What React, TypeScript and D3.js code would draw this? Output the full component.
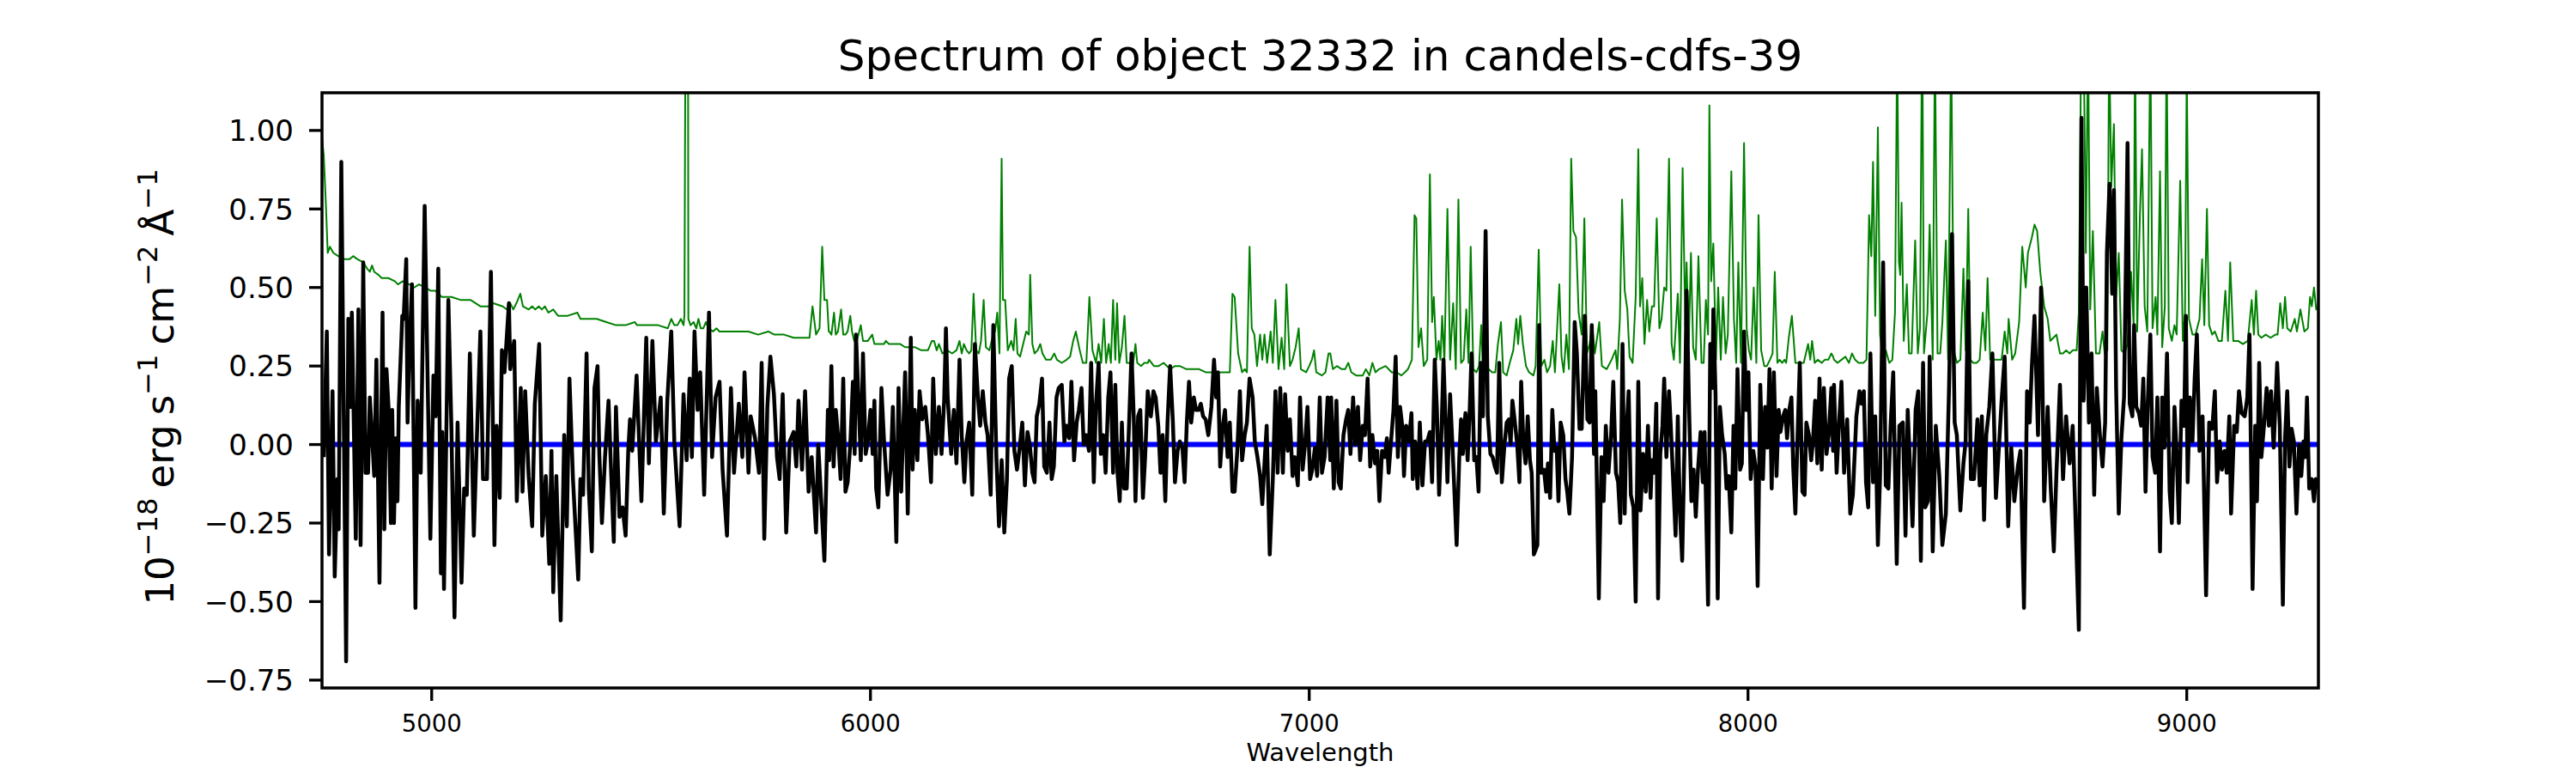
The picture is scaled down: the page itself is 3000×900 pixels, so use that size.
import React from 'react'
import * as d3 from 'd3'

type Pt = [number, number]

// wavelength (Angstrom), flux (1e-18 erg/s/cm2/A)
const fluxBlue: Pt[] = [
  [4754,-0.04],[4761,0.36],[4766,-0.35],[4774,0.17],[4779,-0.42],[4785,-0.11],[4788,-0.27],[4794,0.90],[4805,-0.69],[4810,0.40],
  [4815,0.12],[4818,0.42],[4827,-0.30],[4833,0.43],[4838,-0.32],[4844,0.58],[4849,-0.09],[4855,-0.09],[4859,0.15],[4864,0.03],
  [4869,-0.10],[4874,0.27],[4881,-0.44],[4888,0.42],[4892,-0.27],[4897,0.24],[4902,0.11],[4907,-0.25],[4910,0.11],[4914,-0.25],
  [4918,0.02],[4922,-0.18],[4925,0.12],[4933,0.41],[4936,0.40],[4942,0.59],[4945,0.07],[4949,0.29],[4955,0.51],[4963,-0.52],
  [4968,0.14],[4975,-0.09],[4984,0.76],[4997,-0.30],[5004,0.22],[5009,0.09],[5015,0.56],[5021,-0.41],[5024,0.04],[5028,-0.46],
  [5038,0.46],[5045,0.05],[5052,-0.55],[5059,0.07],[5068,-0.44],[5074,-0.14],[5080,-0.16],[5087,0.29],[5096,-0.29],[5102,-0.02],
  [5111,0.36],[5117,-0.11],[5126,-0.11],[5135,0.55],[5143,-0.32],[5148,0.06],[5155,-0.17],[5160,0.30],[5166,0.23],[5176,0.45],
  [5179,0.24],[5188,0.33],[5194,-0.18],[5203,0.18],[5207,-0.15],[5213,0.17],[5221,-0.10],[5229,-0.26],[5235,0.13],[5245,0.32],
  [5252,-0.29],[5260,-0.10],[5268,-0.38],[5273,-0.02],[5277,-0.47],[5284,-0.10],[5294,-0.56],[5302,0.03],[5308,-0.26],[5314,0.21],
  [5322,-0.11],[5334,-0.43],[5339,-0.11],[5345,-0.16],[5353,0.29],[5358,-0.14],[5365,-0.34],[5371,0.18],[5378,0.25],[5382,-0.03],
  [5388,-0.25],[5395,-0.04],[5403,0.14],[5409,-0.09],[5415,-0.31],[5420,0.12],[5428,-0.23],[5435,-0.20],[5442,-0.29],[5448,-0.02],
  [5452,0.08],[5457,-0.02],[5467,0.22],[5478,-0.18],[5489,0.34],[5495,-0.06],[5503,0.33],[5511,0.01],[5522,0.15],[5529,-0.22],
  [5537,0.14],[5546,0.36],[5553,0.01],[5565,-0.26],[5574,0.16],[5581,-0.05],[5588,0.21],[5593,-0.04],[5599,0.36],[5606,0.11],
  [5612,0.23],[5621,-0.16],[5632,0.42],[5639,-0.04],[5647,0.15],[5656,0.20],[5663,-0.08],[5673,-0.29],[5682,0.18],[5689,-0.09],
  [5700,0.13],[5708,-0.04],[5713,0.23],[5722,-0.09],[5727,0.09],[5737,0.02],[5746,-0.09],[5752,0.26],[5758,-0.30],[5765,0.12],
  [5772,0.28],[5780,0.16],[5787,-0.04],[5793,-0.11],[5800,0.16],[5808,-0.28],[5816,0.01],[5825,0.04],[5831,-0.07],[5836,0.14],
  [5844,-0.08],[5851,0.17],[5859,-0.15],[5866,-0.04],[5876,-0.28],[5881,0.00],[5895,-0.37],[5903,0.11],
]

const fluxGreen: Pt[] = [
  [5906,-0.05],[5911,0.25],[5916,-0.07],[5921,0.11],[5926,0.03],[5932,-0.11],[5938,0.21],[5943,-0.15],[5948,-0.12],[5954,0.00],
  [5960,0.20],[5964,-0.03],[5967,0.35],[5972,0.17],[5978,-0.05],[5983,0.29],[5989,-0.03],[5994,0.01],[6000,0.11],[6005,-0.03],
  [6009,0.14],[6013,-0.14],[6018,-0.20],[6025,0.18],[6031,0.01],[6039,-0.16],[6046,-0.08],[6051,0.12],[6059,-0.31],[6064,0.18],
  [6070,-0.15],[6079,0.23],[6085,-0.22],[6092,0.34],[6096,-0.08],[6101,0.11],[6107,-0.05],[6112,0.17],[6118,0.08],[6125,0.12],
  [6131,0.03],[6138,-0.12],[6143,0.21],[6149,-0.03],[6156,0.12],[6162,-0.03],[6168,0.14],[6172,0.37],[6176,0.15],[6184,-0.03],
  [6190,0.11],[6196,-0.06],[6203,0.27],[6208,0.03],[6214,-0.12],[6219,0.01],[6225,0.07],[6232,-0.16],[6238,0.32],[6245,0.15],
  [6250,0.06],[6256,0.17],[6262,0.07],[6267,0.03],[6274,-0.16],[6280,0.38],[6287,-0.04],[6293,-0.26],[6299,-0.05],[6305,-0.28],
  [6311,-0.11],[6316,0.21],[6322,0.25],[6328,-0.02],[6334,-0.08],[6340,-0.01],[6346,0.07],[6352,-0.13],[6358,0.04],[6363,0.00],
  [6369,-0.09],[6374,-0.12],[6379,0.09],[6385,0.13],[6391,0.21],[6396,-0.07],[6402,-0.09],[6408,0.07],[6413,-0.11],[6418,-0.07],
  [6424,0.15],[6429,0.18],[6436,0.19],[6442,0.01],[6447,0.06],[6453,0.02],[6458,0.20],[6464,-0.05],[6470,0.07],[6475,0.11],
  [6481,0.18],[6486,0.00],[6492,0.03],[6498,-0.02],[6503,0.26],[6509,-0.12],[6514,0.13],[6520,0.26],[6525,-0.03],[6531,0.03],
  [6536,-0.09],[6542,0.15],[6547,0.23],[6553,-0.09],[6558,0.19],[6563,-0.09],[6568,-0.18],[6573,0.07],[6578,-0.14],[6584,-0.14],
  [6590,0.09],[6595,0.29],[6600,0.09],[6604,-0.18],[6610,0.09],[6615,0.11],[6621,-0.17],[6626,-0.04],[6632,0.17],[6639,0.09],
  [6645,0.17],[6650,0.15],[6656,0.06],[6661,-0.09],[6666,0.03],[6672,-0.18],[6677,0.07],[6683,0.25],[6689,0.08],[6694,-0.12],
  [6700,-0.02],[6705,0.01],[6711,-0.01],[6716,-0.12],[6721,0.07],[6726,0.20],[6731,0.07],[6737,0.15],[6742,0.11],[6748,0.11],
  [6753,0.13],[6758,0.09],[6764,0.08],[6770,0.03],[6777,0.12],[6783,0.27],[6788,0.15],[6792,0.23],[6797,-0.07],[6803,0.06],
  [6808,0.11],[6814,-0.04],[6819,0.07],[6825,-0.15],[6830,-0.15],[6836,-0.02],[6842,0.17],[6847,-0.05],[6853,0.03],[6858,0.07],
  [6864,0.21],[6871,0.15],[6876,0.01],[6882,-0.04],[6888,-0.10],[6893,-0.19],[6898,-0.06],[6903,0.06],[6910,-0.35],[6917,-0.11],
  [6923,0.17],[6928,-0.09],[6934,0.18],[6940,-0.09],[6945,0.16],[6951,-0.02],[6956,0.08],[6962,-0.10],[6967,-0.04],[6974,-0.13],
  [6979,0.15],[6985,-0.08],[6991,0.01],[6996,0.12],[7002,-0.11],[7007,-0.08],[7013,-0.01],[7018,-0.10],[7024,0.15],[7029,-0.09],
  [7035,-0.04],[7042,0.15],[7048,-0.05],
]

const fluxRed: Pt[] = [
  [7050,0.15],[7056,-0.14],[7062,0.14],[7067,-0.12],[7072,-0.14],[7078,0.03],[7084,0.08],[7089,0.11],[7094,-0.03],[7100,0.15],
  [7105,0.00],[7111,0.12],[7116,-0.05],[7122,0.06],[7127,0.03],[7133,0.21],[7139,-0.07],[7144,0.03],[7150,-0.06],[7155,-0.02],
  [7160,-0.18],[7166,-0.02],[7172,-0.04],[7177,0.02],[7181,-0.09],[7187,0.02],[7192,0.11],[7197,0.28],[7202,-0.04],[7207,0.12],
  [7212,0.06],[7216,-0.10],[7221,0.06],[7227,0.01],[7233,0.10],[7236,-0.11],[7241,0.01],[7247,-0.14],[7252,0.07],[7258,-0.13],
  [7264,0.01],[7269,0.01],[7275,0.04],[7280,-0.12],[7286,0.27],[7291,0.11],[7296,-0.16],[7301,0.02],[7306,0.27],[7311,0.06],
  [7315,-0.12],[7321,0.16],[7326,0.01],[7330,-0.12],[7336,-0.32],[7342,-0.04],[7346,0.08],[7350,-0.03],[7356,0.10],[7361,-0.05],
  [7366,0.12],[7370,0.29],[7376,-0.05],[7381,-0.04],[7386,-0.15],[7391,0.26],[7396,0.09],[7402,0.68],[7407,0.09],[7413,-0.03],
  [7418,-0.04],[7423,-0.07],[7428,-0.09],[7433,0.26],[7439,-0.12],[7445,0.00],[7450,0.07],[7455,0.08],[7459,0.00],[7463,0.14],
  [7468,0.08],[7474,0.00],[7479,-0.12],[7483,0.20],[7488,0.01],[7493,-0.06],[7498,0.09],[7503,-0.05],[7507,-0.09],[7512,-0.35],
  [7520,-0.32],[7524,0.38],[7529,-0.09],[7535,-0.08],[7540,-0.15],[7544,-0.06],[7549,-0.17],[7554,0.11],[7559,-0.02],[7564,-0.01],
  [7568,-0.18],[7573,0.07],[7579,0.03],[7584,-0.11],[7588,-0.15],[7593,-0.22],[7599,-0.04],[7605,0.39],[7610,0.29],[7616,0.05],
  [7621,0.05],[7628,0.41],[7634,0.08],[7639,0.07],[7644,0.38],[7649,-0.03],[7652,0.17],[7660,-0.49],[7666,-0.04],[7671,-0.18],
  [7676,0.06],[7682,-0.09],[7688,0.03],[7693,0.20],[7699,-0.09],[7704,-0.12],[7709,-0.25],[7714,0.32],[7719,-0.22],[7722,0.01],
  [7728,0.17],[7733,-0.16],[7739,-0.20],[7744,-0.50],[7750,0.20],[7755,-0.21],[7761,-0.03],[7767,-0.15],[7772,0.06],[7778,-0.17],
  [7781,-0.05],[7786,-0.09],[7791,0.13],[7795,-0.49],[7800,-0.03],[7805,0.06],[7809,0.21],[7814,-0.04],[7820,0.17],[7824,0.06],
  [7829,-0.10],[7835,-0.29],[7840,0.09],[7845,-0.22],[7850,-0.37],[7855,-0.02],[7860,0.49],[7866,0.10],[7871,-0.18],[7876,-0.08],
  [7881,-0.23],[7886,-0.08],[7892,0.04],[7897,-0.12],[7901,0.04],[7909,-0.51],[7914,0.32],[7919,0.18],[7921,0.43],[7926,0.16],
  [7931,-0.49],[7936,0.12],[7941,0.03],[7947,-0.03],[7951,-0.14],[7956,-0.10],[7962,-0.28],[7967,0.06],[7971,-0.14],[7976,0.24],
  [7982,-0.08],[7986,-0.06],[7991,0.36],[7996,0.11],[8001,0.23],[8006,-0.11],[8012,-0.02],[8017,-0.07],[8022,-0.45],[8028,0.19],
  [8034,-0.11],[8039,0.12],[8044,-0.01],[8049,0.24],[8054,-0.14],[8059,0.23],[8065,-0.10],[8070,0.11],[8074,0.04],[8080,0.09],
  [8085,0.11],[8089,0.02],[8094,0.11],[8099,0.15],[8103,-0.07],[8108,-0.22],[8113,0.03],[8118,0.26],[8124,-0.15],[8129,-0.16],
  [8133,0.07],[8139,0.03],[8144,-0.05],[8148,0.01],[8153,0.14],[8158,-0.06],[8163,0.21],[8168,-0.08],[8173,0.18],[8179,-0.03],
  [8184,0.03],[8190,0.18],[8194,-0.02],
]

const fluxIR: Pt[] = [
  [8196,0.19],[8202,-0.09],[8208,0.08],[8213,0.20],[8219,-0.09],[8226,0.08],[8233,-0.22],[8239,-0.16],[8247,0.09],[8254,0.17],
  [8259,0.13],[8264,0.17],[8269,-0.12],[8274,-0.20],[8279,0.29],[8285,-0.12],[8290,0.09],[8296,-0.32],[8301,-0.10],[8308,0.58],
  [8314,-0.13],[8320,-0.14],[8325,0.06],[8331,0.23],[8339,-0.38],[8345,0.06],[8353,0.07],[8359,-0.29],[8364,0.11],[8370,-0.09],
  [8375,-0.26],[8382,0.11],[8388,0.17],[8394,-0.37],[8399,0.26],[8404,-0.20],[8410,-0.18],[8414,0.28],[8421,-0.34],[8428,0.06],
  [8436,-0.10],[8443,-0.32],[8451,-0.22],[8458,0.17],[8465,0.67],[8471,0.07],[8476,0.03],[8484,-0.21],[8491,-0.06],[8496,0.01],
  [8502,0.52],[8508,-0.11],[8515,-0.11],[8523,0.08],[8528,-0.13],[8533,0.09],[8538,-0.24],[8543,0.03],[8550,0.12],[8557,0.29],
  [8565,-0.17],[8571,-0.03],[8578,0.14],[8585,0.28],[8593,-0.26],[8600,-0.01],[8607,-0.18],[8615,-0.07],[8621,-0.02],[8629,-0.52],
  [8636,0.17],[8642,0.07],[8647,0.25],[8653,0.41],[8661,0.03],[8668,0.50],[8675,-0.18],[8683,0.12],[8690,-0.14],[8697,-0.34],
  [8703,-0.09],[8711,0.19],[8718,-0.11],[8725,0.09],[8733,-0.06],[8740,0.06],[8745,-0.17],[8754,-0.59],[8760,1.04],[8765,0.14],
  [8771,0.50],[8777,0.07],[8783,0.29],[8789,-0.16],[8795,0.18],[8802,0.03],[8808,-0.07],[8814,0.07],[8818,0.61],[8824,0.83],
  [8830,0.48],[8834,0.81],[8839,0.18],[8845,-0.22],[8851,0.02],[8857,0.15],[8865,0.96],[8870,0.13],[8876,0.09],[8880,0.38],
  [8885,0.12],[8891,0.10],[8896,0.06],[8901,0.21],[8906,-0.15],[8911,0.13],[8917,0.35],[8922,-0.04],[8928,-0.09],[8933,0.15],
  [8939,-0.34],[8944,0.15],[8949,-0.01],[8955,0.29],[8961,-0.15],[8966,-0.25],[8972,0.12],[8977,-0.03],[8982,-0.25],[8988,0.14],
  [8994,0.06],[8998,0.41],[9002,-0.12],[9007,0.15],[9013,0.01],[9018,0.21],[9023,0.35],[9029,-0.02],[9036,0.09],[9044,-0.48],
  [9051,0.07],[9058,0.05],[9064,0.17],[9069,-0.12],[9075,0.01],[9080,-0.08],[9086,-0.02],[9091,-0.09],[9097,0.09],[9101,-0.22],
  [9108,0.06],[9114,0.04],[9119,0.17],[9125,0.10],[9132,0.09],[9138,0.15],[9143,0.35],[9150,-0.46],[9156,0.06],[9160,-0.18],
  [9165,0.26],[9170,-0.04],[9176,0.06],[9182,0.18],[9187,0.06],[9192,0.17],[9198,-0.01],[9206,0.26],[9212,0.06],[9219,-0.51],
  [9224,0.02],[9229,0.17],[9234,-0.07],[9239,0.05],[9244,0.01],[9250,-0.22],[9256,0.00],[9261,-0.10],[9266,0.01],[9270,-0.04],
  [9274,0.15],[9279,-0.14],[9285,-0.11],[9290,-0.18],[9294,-0.11],[9300,-0.14],
]

// noise / sky spectrum (green)
const skyBlue: Pt[] = [
  [4750,0.98],[4754,0.92],[4759,0.76],[4763,0.61],[4768,0.63],[4776,0.61],[4787,0.60],[4802,0.59],[4813,0.59],[4821,0.60],
  [4831,0.59],[4844,0.58],[4853,0.56],[4859,0.55],[4864,0.57],[4869,0.55],[4879,0.54],[4886,0.53],[4901,0.53],[4916,0.52],
  [4923,0.51],[4934,0.52],[4949,0.51],[4960,0.50],[4971,0.51],[4986,0.50],[4997,0.49],[5008,0.49],[5023,0.47],[5045,0.47],
  [5067,0.46],[5089,0.46],[5111,0.44],[5129,0.44],[5140,0.45],[5162,0.44],[5171,0.43],[5179,0.45],[5186,0.43],[5193,0.45],
  [5202,0.48],[5208,0.44],[5221,0.43],[5229,0.44],[5236,0.43],[5244,0.44],[5251,0.43],[5258,0.44],[5266,0.42],[5277,0.43],
  [5288,0.41],[5310,0.41],[5332,0.42],[5339,0.40],[5361,0.40],[5376,0.40],[5398,0.39],[5420,0.38],[5442,0.38],[5463,0.39],
  [5468,0.38],[5487,0.38],[5516,0.38],[5538,0.37],[5546,0.40],[5553,0.38],[5560,0.38],[5568,0.40],[5574,0.38],[5576,0.41],
  [5579,1.6],[5584,1.6],[5585,0.40],[5590,0.38],[5597,0.39],[5603,0.37],[5608,0.40],[5613,0.37],[5619,0.37],[5625,0.39],
  [5630,0.37],[5641,0.36],[5649,0.37],[5656,0.36],[5671,0.36],[5693,0.36],[5708,0.36],[5722,0.36],[5744,0.35],[5767,0.36],
  [5781,0.35],[5803,0.35],[5825,0.34],[5848,0.34],[5861,0.34],[5868,0.44],[5876,0.35],[5884,0.37],[5890,0.63],[5895,0.46],
  [5901,0.46],[5905,0.36],
]

const skyGreen: Pt[] = [
  [5906,0.36],[5911,0.35],[5917,0.42],[5921,0.35],[5926,0.36],[5933,0.43],[5938,0.35],[5943,0.35],[5948,0.36],[5954,0.41],
  [5958,0.36],[5963,0.33],[5969,0.33],[5978,0.38],[5983,0.33],[5994,0.33],[6004,0.35],[6009,0.32],[6020,0.32],[6031,0.32],
  [6035,0.33],[6042,0.32],[6061,0.32],[6068,0.32],[6079,0.31],[6101,0.31],[6116,0.30],[6131,0.30],[6140,0.33],[6145,0.33],
  [6151,0.30],[6156,0.32],[6164,0.29],[6175,0.30],[6186,0.29],[6196,0.30],[6203,0.33],[6208,0.29],[6213,0.32],[6219,0.30],
  [6225,0.29],[6230,0.30],[6235,0.48],[6241,0.30],[6247,0.29],[6252,0.33],[6258,0.46],[6263,0.31],[6271,0.30],[6278,0.34],
  [6284,0.36],[6289,0.42],[6294,0.29],[6299,0.91],[6302,0.46],[6307,0.46],[6313,0.30],[6321,0.33],[6326,0.30],[6331,0.40],
  [6335,0.29],[6341,0.28],[6348,0.32],[6355,0.36],[6361,0.35],[6364,0.54],[6369,0.32],[6374,0.29],[6381,0.30],[6387,0.32],
  [6392,0.29],[6400,0.27],[6411,0.27],[6419,0.29],[6425,0.27],[6436,0.26],[6447,0.27],[6455,0.28],[6462,0.33],[6468,0.36],
  [6477,0.30],[6484,0.26],[6492,0.26],[6499,0.47],[6506,0.30],[6514,0.26],[6520,0.32],[6526,0.26],[6532,0.40],[6537,0.26],
  [6543,0.32],[6548,0.26],[6553,0.46],[6558,0.27],[6562,0.45],[6567,0.26],[6573,0.31],[6579,0.41],[6584,0.26],[6589,0.26],
  [6598,0.25],[6604,0.32],[6608,0.26],[6617,0.25],[6624,0.26],[6632,0.26],[6635,0.27],[6646,0.25],[6657,0.25],[6668,0.26],
  [6683,0.24],[6694,0.25],[6705,0.25],[6720,0.24],[6735,0.24],[6749,0.24],[6764,0.23],[6779,0.23],[6797,0.23],[6819,0.23],
  [6825,0.48],[6830,0.47],[6838,0.29],[6847,0.23],[6853,0.24],[6858,0.23],[6864,0.63],[6869,0.37],[6875,0.35],[6881,0.25],
  [6888,0.35],[6893,0.27],[6898,0.35],[6904,0.26],[6912,0.36],[6917,0.26],[6923,0.46],[6930,0.24],[6937,0.34],[6943,0.24],
  [6948,0.51],[6956,0.25],[6962,0.27],[6969,0.31],[6976,0.37],[6981,0.24],[6993,0.23],[7000,0.25],[7006,0.27],[7011,0.30],
  [7016,0.23],[7029,0.22],[7037,0.23],[7044,0.29],
]

const skyRed: Pt[] = [
  [7048,0.29],[7054,0.24],[7063,0.25],[7074,0.24],[7082,0.24],[7089,0.26],[7096,0.23],[7107,0.22],[7122,0.22],[7129,0.24],
  [7137,0.22],[7144,0.26],[7151,0.23],[7159,0.24],[7174,0.25],[7188,0.23],[7199,0.23],[7210,0.22],[7218,0.23],[7225,0.24],
  [7234,0.27],[7240,0.73],[7244,0.72],[7249,0.31],[7255,0.37],[7261,0.25],[7269,0.27],[7275,0.86],[7280,0.39],[7284,0.47],
  [7290,0.27],[7295,0.33],[7299,0.27],[7303,0.41],[7308,0.26],[7315,0.75],[7321,0.27],[7328,0.45],[7334,0.24],[7340,0.78],
  [7346,0.26],[7352,0.27],[7358,0.43],[7363,0.26],[7368,0.63],[7374,0.24],[7381,0.23],[7387,0.25],[7392,0.38],[7396,0.24],
  [7403,0.23],[7409,0.24],[7417,0.23],[7424,0.23],[7430,0.32],[7437,0.39],[7442,0.23],[7450,0.22],[7457,0.26],[7465,0.30],
  [7472,0.40],[7476,0.32],[7481,0.41],[7487,0.32],[7494,0.25],[7501,0.23],[7511,0.22],[7516,0.25],[7523,0.62],[7529,0.25],
  [7536,0.27],[7542,0.23],[7549,0.25],[7555,0.33],[7560,0.23],[7570,0.51],[7575,0.28],[7580,0.23],[7586,0.35],[7592,0.24],
  [7597,0.91],[7602,0.68],[7608,0.66],[7614,0.42],[7621,0.35],[7627,0.72],[7633,0.29],[7639,0.32],[7645,0.38],[7651,0.29],
  [7656,0.34],[7661,0.39],[7667,0.25],[7678,0.24],[7689,0.27],[7698,0.30],[7702,0.24],[7708,0.40],[7713,0.78],[7719,0.49],
  [7725,0.43],[7730,0.28],[7737,0.26],[7744,0.47],[7750,0.94],[7754,0.44],[7759,0.53],[7764,0.32],[7770,0.46],[7775,0.36],
  [7781,0.44],[7786,0.44],[7792,0.72],[7798,0.37],[7803,0.40],[7809,0.50],[7814,0.49],[7820,0.91],[7826,0.32],[7831,0.27],
  [7840,0.48],[7845,0.26],[7851,0.88],[7857,0.38],[7860,0.58],[7865,0.32],[7870,0.61],[7875,0.31],[7881,0.27],[7887,0.60],
  [7894,0.26],[7899,0.26],[7904,0.46],[7909,0.35],[7912,1.08],[7916,0.52],[7921,0.64],[7927,0.27],[7932,0.50],[7938,0.27],
  [7943,0.47],[7949,0.29],[7954,0.35],[7962,0.87],[7968,0.40],[7973,0.26],[7978,0.58],[7984,0.26],[7991,0.96],[7997,0.37],
  [8002,0.30],[8007,0.27],[8013,0.50],[8019,0.26],[8024,0.73],[8030,0.30],[8037,0.25],[8043,0.25],[8050,0.27],[8056,0.29],
  [8061,0.55],[8067,0.26],[8072,0.27],[8078,0.26],[8083,0.27],[8087,0.26],[8093,0.34],[8100,0.41],[8108,0.26],[8113,0.26],
  [8120,0.26],[8127,0.26],[8137,0.32],[8142,0.27],[8146,0.33],[8152,0.26],[8159,0.27],[8168,0.26],[8175,0.27],[8183,0.27],
  [8190,0.29],[8194,0.28],
]

const skyIR: Pt[] = [
  [8196,0.27],[8204,0.26],[8213,0.27],[8222,0.28],[8230,0.26],[8237,0.29],[8244,0.27],[8252,0.26],[8263,0.26],[8270,0.27],
  [8276,0.73],[8281,0.60],[8285,0.90],[8290,0.41],[8296,1.01],[8301,0.35],[8307,0.27],[8314,0.30],[8322,0.26],[8329,0.27],
  [8335,0.42],[8340,1.3],[8344,0.58],[8347,0.54],[8350,0.77],[8355,0.33],[8362,0.51],[8367,0.29],[8373,0.29],[8381,0.65],
  [8387,0.29],[8392,0.37],[8397,1.4],[8401,0.29],[8409,0.42],[8414,0.70],[8421,0.27],[8426,1.3],[8432,0.29],[8438,0.29],
  [8443,0.39],[8451,0.65],[8456,0.27],[8463,1.3],[8469,0.30],[8476,0.26],[8484,0.27],[8491,0.56],[8496,0.30],[8502,0.75],
  [8507,0.27],[8513,0.26],[8521,0.26],[8528,0.27],[8535,0.42],[8541,0.30],[8546,0.53],[8552,0.27],[8557,0.27],[8565,0.27],
  [8572,0.27],[8578,0.27],[8585,0.36],[8591,0.29],[8594,0.40],[8602,0.27],[8609,0.29],[8618,0.39],[8625,0.63],[8633,0.50],
  [8638,0.61],[8647,0.66],[8653,0.70],[8659,0.68],[8666,0.55],[8675,0.44],[8683,0.40],[8689,0.33],[8696,0.34],[8703,0.35],
  [8711,0.29],[8718,0.29],[8725,0.30],[8733,0.29],[8740,0.30],[8749,0.30],[8754,0.42],[8760,1.4],[8765,1.3],[8770,0.61],
  [8775,1.3],[8780,0.43],[8786,0.68],[8793,0.29],[8801,0.29],[8808,0.36],[8813,0.29],[8819,0.30],[8823,1.3],[8828,0.82],
  [8834,1.02],[8839,0.47],[8845,0.61],[8851,0.30],[8858,0.29],[8865,0.32],[8873,0.55],[8879,0.38],[8882,1.3],[8887,0.36],
  [8893,0.72],[8898,0.94],[8904,0.44],[8910,0.36],[8917,1.3],[8922,0.37],[8929,0.47],[8933,0.35],[8939,0.87],[8944,0.31],
  [8950,0.44],[8954,1.3],[8959,0.37],[8966,0.33],[8972,0.38],[8977,0.35],[8985,0.84],[8991,0.33],[8996,0.42],[9000,1.2],
  [9005,0.40],[9013,0.35],[9020,0.35],[9029,0.40],[9035,0.59],[9040,0.38],[9046,0.75],[9051,0.38],[9058,0.35],[9064,0.36],
  [9072,0.33],[9080,0.33],[9088,0.49],[9094,0.33],[9099,0.58],[9106,0.33],[9117,0.33],[9128,0.32],[9139,0.33],[9148,0.46],
  [9153,0.35],[9158,0.49],[9163,0.35],[9170,0.34],[9180,0.35],[9191,0.34],[9202,0.35],[9207,0.35],[9213,0.45],[9219,0.37],
  [9224,0.47],[9229,0.37],[9237,0.36],[9246,0.40],[9251,0.36],[9259,0.43],[9268,0.36],[9276,0.37],[9281,0.47],[9285,0.44],
  [9290,0.50],[9295,0.43],[9300,0.44],
]

const xTicks = [5000, 6000, 7000, 8000, 9000]
const yTicks = [-0.75, -0.5, -0.25, 0, 0.25, 0.5, 0.75, 1.0]
const xDomain = [4750, 9300]
const yDomain = [-0.775, 1.12]
const title = 'Spectrum of object 32332 in candels-cdfs-39'

const FONT = '"DejaVu Sans", sans-serif'
const GAP = '\u2005'

export default function App() {
  const width = 3000
  const height = 900
  const margin = { left: 375, right: 300, top: 108, bottom: 99 }
  const x0 = margin.left
  const x1 = width - margin.right
  const y0 = margin.top
  const y1 = height - margin.bottom

  const x = d3.scaleLinear().domain(xDomain).range([x0, x1])
  const y = d3.scaleLinear().domain(yDomain).range([y1, y0])
  const line = d3
    .line<Pt>()
    .x((d) => x(d[0]))
    .y((d) => y(d[1]))

  const flux = [...fluxBlue, ...fluxGreen, ...fluxRed, ...fluxIR]
  const sky = [...skyBlue, ...skyGreen, ...skyRed, ...skyIR]
  const fmt = d3.format('.2f')
  const cx = (x0 + x1) / 2
  const cy = (y0 + y1) / 2

  return (
    <svg
      width={width}
      height={height}
      style={{ position: 'absolute', left: 0, top: 0, background: '#fff' }}
      fontFamily={FONT}
    >
      <rect width={width} height={height} fill="#fff" />
      <defs>
        <clipPath id="plotArea">
          <rect x={x0} y={y0} width={x1 - x0} height={y1 - y0} />
        </clipPath>
      </defs>

      <g clipPath="url(#plotArea)">
        <path d={line(sky) ?? ''} fill="none" stroke="#008000" strokeWidth={2} strokeLinejoin="round" />
        <line x1={x0} x2={x1} y1={y(0)} y2={y(0)} stroke="#0000ff" strokeWidth={6} />
        <path d={line(flux) ?? ''} fill="none" stroke="#000" strokeWidth={4.5} strokeLinejoin="round" />
      </g>

      {/* frame */}
      <rect x={x0} y={y0} width={x1 - x0} height={y1 - y0} fill="none" stroke="#000" strokeWidth={3.5} />

      {/* x axis */}
      {xTicks.map((t) => (
        <g key={t}>
          <line x1={x(t)} x2={x(t)} y1={y1} y2={y1 + 15} stroke="#000" strokeWidth={3.3} />
          <text x={x(t)} y={852} textAnchor="middle" fontSize={27.5} fill="#000">
            {t}
          </text>
        </g>
      ))}
      <text x={cx} y={886} textAnchor="middle" fontSize={29} fill="#000">
        Wavelength
      </text>

      {/* y axis */}
      {yTicks.map((t) => (
        <g key={t}>
          <line x1={x0 - 15} x2={x0} y1={y(t)} y2={y(t)} stroke="#000" strokeWidth={3.3} />
          <text x={342} y={y(t)} dy={12.3} textAnchor="end" fontSize={34} fill="#000">
            {fmt(t)}
          </text>
        </g>
      ))}
      <text
        transform={`translate(202,${cy - 4}) rotate(-90)`}
        textAnchor="middle"
        fontSize={45}
        fill="#000"
      >
        <tspan>10</tspan>
        <tspan dy={-19} fontSize={32}>−18</tspan>
        <tspan dy={19}>{GAP + 'erg' + GAP + 's'}</tspan>
        <tspan dy={-19} fontSize={32}>−1</tspan>
        <tspan dy={19}>{GAP + 'cm'}</tspan>
        <tspan dy={-19} fontSize={32}>−2</tspan>
        <tspan dy={19}>{GAP + 'Å'}</tspan>
        <tspan dy={-19} fontSize={32}>−1</tspan>
      </text>

      <text x={cx} y={82} textAnchor="middle" fontSize={50} fill="#000">
        {title}
      </text>
    </svg>
  )
}
